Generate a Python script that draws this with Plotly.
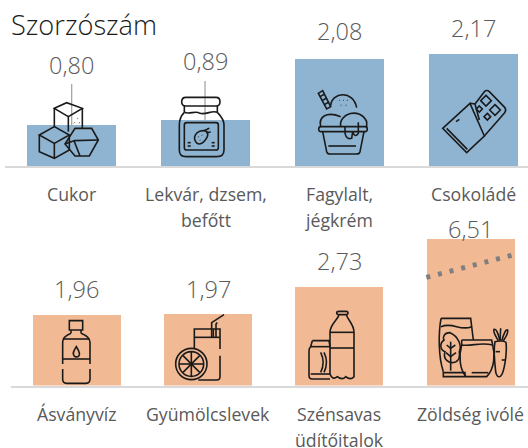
import re
import plotly.graph_objects as go

# ---- data ----
top_categories = ["Cukor", "Lekvár, dzsem,<br>befőtt", "Fagylalt,<br>jégkrém", "Csokoládé"]
top_values = [0.80, 0.89, 2.08, 2.17]
top_labels = ["0,80", "0,89", "2,08", "2,17"]
bottom_categories = ["Ásványvíz", "Gyümölcslevek", "Szénsavas<br>üdítőitalok", "Zöldség ivólé"]
bottom_values = [1.96, 1.97, 2.73, 6.51]
bottom_labels = ["1,96", "1,97", "2,73", "6,51"]
title_text = "Szorzószám"

W, H = 528, 448
BLUE, ORANGE, GREY = "#8FB4D1", "#F2BA94", "#595959"
FONT = "Open Sans"
top_ymax, bot_ymax = 3.03, 4.05
top_xr = [-0.5, 3.41]
bot_xr = [-0.5, 2.935 + 0.5]

fig = go.Figure()
fig.add_bar(x=list(range(4)), y=top_values, marker=dict(color=BLUE, line_width=0), width=0.665,
            xaxis="x", yaxis="y", showlegend=False)
fig.add_bar(x=list(range(4)), y=bottom_values, marker=dict(color=ORANGE, line_width=0), width=0.67,
            xaxis="x2", yaxis="y2", showlegend=False)

ann = []
def add_row(cats, vals, labels, xa, ya, ymax, shifts, cat_y):
    for i, (c, v, l, s) in enumerate(zip(cats, vals, labels, shifts)):
        ann.append(dict(x=i, y=min(v, ymax), xref=xa, yref=ya, text=l, showarrow=False, yshift=s,
                        yanchor="middle", font=dict(family=FONT, size=23.5, color=GREY, weight=300)))
        for j, line in enumerate(c.split("<br>")):
            ann.append(dict(x=i, y=1 - (cat_y + 26 * j) / H, xref=xa, yref="paper", text=line, showarrow=False,
                            yanchor="middle", font=dict(family=FONT, size=17.7, color=GREY)))

add_row(top_categories, top_values, top_labels, "x", "y", top_ymax, [60, 59, 28, 26], 194)
add_row(bottom_categories, bottom_values, bottom_labels, "x2", "y2", bot_ymax, [26, 25, 26, 10], 414)
ann.append(dict(x=9 / W, y=1 - 24 / H, xref="paper", yref="paper", text=title_text, showarrow=False,
                xanchor="left", yanchor="middle", font=dict(family=FONT, size=27.2, color="#1a1a1a", weight=300)))

# ---- decorative pictograms, traced in page pixels (crop coords / 3 + crop offset) ----
shapes = []
def tr(path, ox, oy):
    out, toks = [], re.findall(r"[MLCQZ]|-?\d+\.?\d*", path)
    k = 0
    for t in toks:
        if t in "MLCQZ":
            out.append(t)
        else:
            v = float(t) / 3 + (ox if k % 2 == 0 else oy)
            out.append(f"{v:.2f}")
            k += 1
    return " ".join(out)

def stroke(paths, ox, oy, width=1.6, color="#1a1a1a", dash=None):
    for p in paths:
        shapes.append(dict(type="path", path=tr(p, ox, oy), xref="x3", yref="y3", layer="above",
                           line=dict(color=color, width=width, dash=dash or "solid")))

def circle(cx, cy, r):
    k = 0.552 * r
    return (f"M{cx-r} {cy} C{cx-r} {cy-k} {cx-k} {cy-r} {cx} {cy-r} C{cx+k} {cy-r} {cx+r} {cy-k} {cx+r} {cy} "
            f"C{cx+r} {cy+k} {cx+k} {cy+r} {cx} {cy+r} C{cx-k} {cy+r} {cx-r} {cy+k} {cx-r} {cy} Z")

def diamond(cx, cy, r):
    return f"M{cx} {cy-r} L{cx+r} {cy} L{cx} {cy+r} L{cx-r} {cy} Z"

# leader lines
stroke(["M215 252 L215 395", "M615 243 L615 365"], 0, 0, width=1.3, color="#A6A6A6")
# sugar cubes
stroke(["M163 325 L200 308 L247 325 L205 350 Z", "M163 325 L163 382", "M205 350 L205 395", "M247 325 L247 385",
        "M232 355 L233 356", "M222 368 L223 369", "M238 368 L239 369",
        "M118 405 L163 380 L208 405 L163 430 Z", "M118 405 L118 455 L163 475 L208 450 L208 405", "M163 430 L163 475",
        "M195 432 L225 385 L275 385 L295 420 L268 468 L225 468 Z", "M222 422 L295 420", "M222 422 L195 432", "M222 422 L240 468"], 0, 0)
# jar
stroke(["M558 292 L648 292 Q660 292 660 305 Q660 318 648 318 L558 318 Q545 318 545 305 Q545 292 558 292 Z",
        "M553 318 L553 337", "M652 318 L652 337",
        "M553 337 C570 345 585 330 600 340 C620 345 635 330 652 337",
        "M553 337 C540 350 538 360 538 375 L538 450 Q538 470 558 470 L650 470 Q672 470 672 450 L672 375 C672 360 665 350 652 337",
        "M560 368 L648 368 Q655 368 655 375 L655 443 Q655 450 648 450 L560 450 Q553 450 553 443 L553 375 Q553 368 560 368 Z",
        "M584 410 C590 392 612 388 622 396 C628 410 610 432 596 432 C588 430 582 420 584 410 Z",
        "M612 392 L628 385", "M618 398 L632 396", "M595 410 L596 411", "M606 405 L607 406", "M600 420 L601 421",
        "M563 428 L572 428", "M563 438 L572 438", "M635 428 L644 428", "M635 438 L644 438"], 0, 0)
# ice cream
stroke(["M38 140 L50 200 Q52 207 60 207 L140 207 Q148 207 150 200 L162 140",
        "M33 125 L165 125 Q172 125 172 133 Q172 140 165 140 L33 140 Q26 140 26 133 Q26 125 33 125 Z",
        "M55 183 L138 183",
        "M32 125 C25 95 50 78 92 95", "M92 125 C85 85 150 65 170 110 L170 125",
        "M62 62 C65 20 130 15 140 68",
        "M88 45 L89 46", "M100 45 L101 46", "M112 45 L113 46", "M93 60 L94 61", "M108 60 L109 61",
        "M105 125 L105 145 Q110 165 125 160 L128 140 Q135 160 145 145 L145 112",
        "M25 25 L38 17 L62 65 L50 72 Z", "M30 35 L44 27", "M36 47 L50 39", "M43 59 L57 51"], 310, 85)
# chocolate
stroke(["M38 145 L120 70 L163 168 L110 218 Z", "M50 145 L112 208", "M78 125 L88 118",
        "M120 70 L135 72 L148 120", "M135 72 L163 35 Q170 28 178 35 L224 82 Q230 90 224 98 L163 168",
        diamond(168, 62, 16), diamond(195, 90, 16), diamond(148, 87, 9), diamond(172, 110, 10)], 430, 80)
# water bottle
stroke(["M208 290 L248 290 L248 318 L208 318 Z", "M213 318 L213 328", "M243 318 L243 328",
        "M213 328 C195 335 188 345 188 355 L188 420", "M188 435 L188 465 Q188 478 200 478 L258 478 Q270 478 270 465 L270 435",
        "M270 420 L270 355 C270 345 260 335 243 328", "M188 405 L270 405", "M190 345 L268 345",
        "M229 368 C222 380 216 388 222 395 C226 400 233 400 237 395 C242 388 236 380 229 368 Z"], 0, 224)
# juice
stroke(["M583 375 L583 315 L660 315 L660 375", "M660 395 L660 458 Q660 468 650 468 L595 468", "M583 340 L660 340",
        "M635 340 L635 296 L672 272", "M652 296 L648 300 L648 340", "M640 315 L640 340",
        circle(574, 420, 47), circle(574, 420, 37),
        "M574 384 L574 456", "M538 420 L610 420", "M549 395 L599 445", "M599 395 L549 445"], 0, 224)
# soda
stroke(["M225 262 L246 262 Q252 262 252 267 Q252 272 246 272 L225 272 Q218 272 218 267 Q218 262 225 262 Z",
        "M225 272 C222 287 198 300 198 325 L198 450 Q205 470 220 458 Q235 470 245 458 Q260 470 270 458 L270 325 C270 300 250 287 247 272",
        "M198 325 L270 325", "M198 372 L270 372",
        "M145 350 L195 350 L198 368", "M145 350 L140 368 Q135 372 135 380 L135 455 Q135 465 145 465 L198 465",
        "M140 368 L198 368", "M140 450 L198 450", "M180 385 C190 405 190 425 180 445", "M170 385 C180 405 180 425 170 445"], 264, 224)
# vegetables
stroke(["M33 25 L122 25 L130 90", "M33 25 C25 70 25 140 40 185", "M33 50 C70 35 90 65 125 50",
        "M40 188 L105 188 L105 200 L40 200 Z",
        "M60 68 C40 68 38 85 42 90 C28 100 30 120 45 125 C38 145 55 165 78 155 C88 150 90 140 88 125 C95 110 88 80 60 68 Z",
        "M62 95 L62 182", "M62 115 L50 105", "M62 115 L76 105", "M62 140 L48 128", "M62 140 L78 128",
        "M95 90 L185 90 L188 105", "M95 90 L95 105", "M95 105 C85 140 90 180 108 200 L170 200 C195 175 195 130 188 105",
        "M95 105 C125 110 150 95 188 105", "M125 188 L175 188",
        "M195 95 C205 92 222 92 228 97 C232 130 222 190 212 198 C205 205 198 195 197 185 C193 150 190 120 195 95 Z",
        "M205 92 C195 75 188 65 192 58 C200 55 205 75 210 92", "M210 92 L212 55", "M215 92 C220 75 228 55 233 60 C235 70 225 85 220 92",
        "M197 125 L210 125", "M215 150 L225 150"], 430, 310)
# axis-break marker
stroke(["M487 160 L750 92"], 264, 224, width=5, color="#7F7F7F", dash="4px,8px")

ax_off = dict(showgrid=False, zeroline=False, showticklabels=False, ticks="", fixedrange=True)
baseline = dict(showline=True, linecolor="#D9D9D9", linewidth=2)
fig.update_layout(
    width=W, height=H, margin=dict(l=0, r=0, t=0, b=0), paper_bgcolor="white", plot_bgcolor="rgba(0,0,0,0)",
    bargap=0, showlegend=False, annotations=ann, shapes=shapes,
    xaxis=dict(domain=[5 / W, 1], range=top_xr, anchor="y", **ax_off, **baseline),
    yaxis=dict(domain=[1 - 166 / H, 1 - 10 / H], range=[0, top_ymax], anchor="x", visible=False),
    xaxis2=dict(domain=[11 / W, 1], range=bot_xr, anchor="y2", **ax_off, **baseline),
    yaxis2=dict(domain=[1 - 385.5 / H, 1 - 239 / H], range=[0, bot_ymax], anchor="x2", visible=False),
    xaxis3=dict(domain=[0, 1], range=[0, W], anchor="y3", visible=False),
    yaxis3=dict(domain=[0, 1], range=[H, 0], anchor="x3", visible=False),
)
# keeps the overlay axes alive for the pictograms
fig.add_scatter(x=[0], y=[0], xaxis="x3", yaxis="y3", mode="markers", marker=dict(opacity=0), hoverinfo="skip", showlegend=False)
fig.write_html("out.html", config=dict(displayModeBar=False),
               post_script="document.body.style.margin='0';document.body.style.overflow='hidden';")
